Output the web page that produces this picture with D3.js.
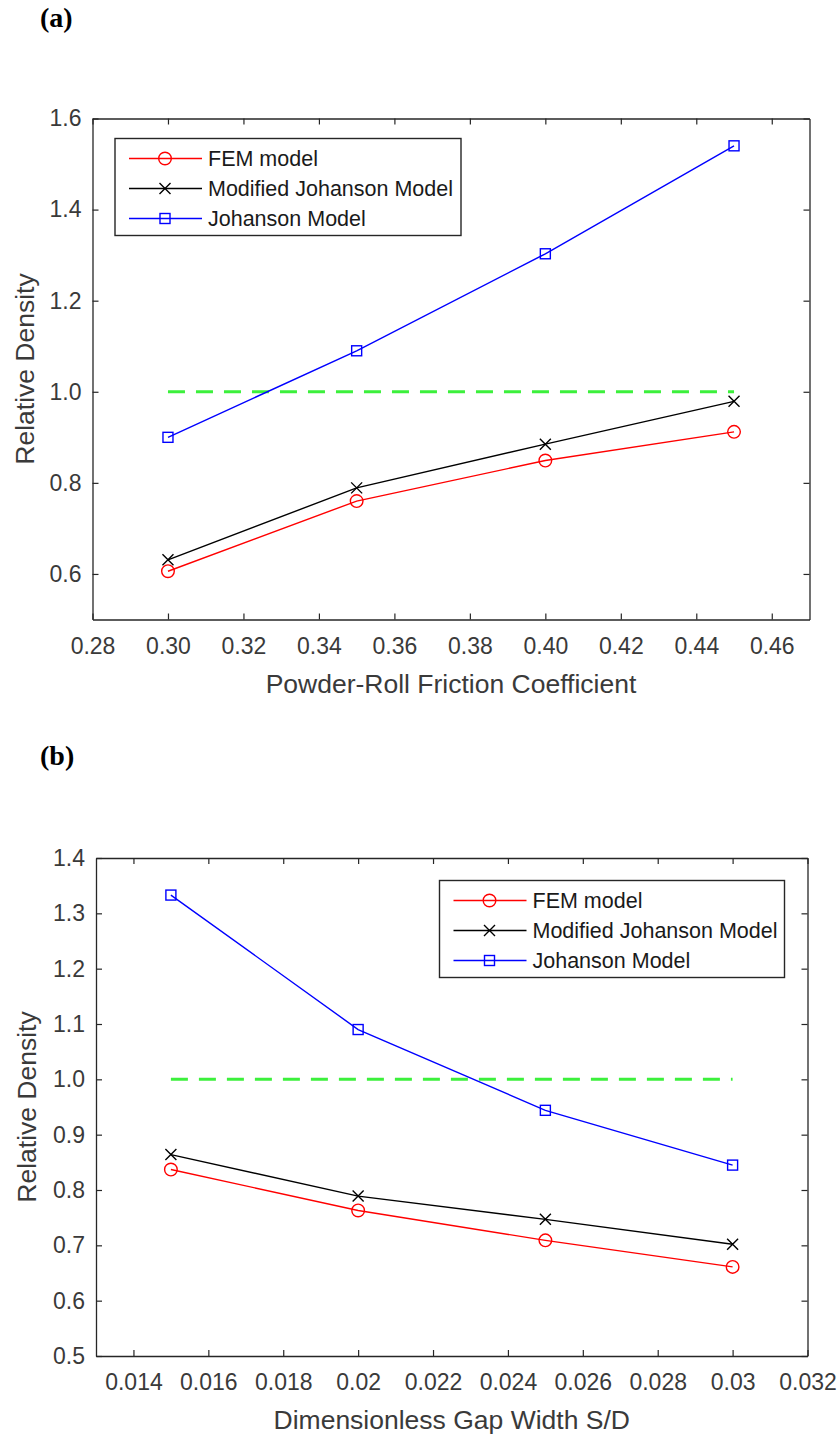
<!DOCTYPE html>
<html>
<head>
<meta charset="utf-8">
<script src="https://cdn.jsdelivr.net/npm/d3@7"></script>
<style>
  html, body { margin: 0; padding: 0; background: #fff; }
  svg { display: block; }
</style>
</head>
<body>
<svg id="fig" width="840" height="1435"></svg>
<script>
// ---- Panel (a): relative density vs powder-roll friction coefficient ----
const frictionCoeff = [0.30, 0.35, 0.40, 0.45];
const femA = [0.606, 0.760, 0.849, 0.912];
const modJohansonA = [0.631, 0.789, 0.885, 0.979];
const johansonA = [0.900, 1.090, 1.303, 1.540];
const xTicksA = [0.28, 0.30, 0.32, 0.34, 0.36, 0.38, 0.40, 0.42, 0.44, 0.46];
const yTicksA = [0.6, 0.8, 1.0, 1.2, 1.4, 1.6];

// ---- Panel (b): relative density vs dimensionless gap width ----
const gapWidth = [0.015, 0.020, 0.025, 0.030];
const femB = [0.837, 0.763, 0.709, 0.661];
const modJohansonB = [0.864, 0.789, 0.747, 0.702];
const johansonB = [1.333, 1.090, 0.944, 0.845];
const xTicksB = [0.014, 0.016, 0.018, 0.020, 0.022, 0.024, 0.026, 0.028, 0.030, 0.032];
const yTicksB = [0.5, 0.6, 0.7, 0.8, 0.9, 1.0, 1.1, 1.2, 1.3, 1.4];

// Full-density reference level
const referenceDensity = 1.0;

const seriesNames = ["FEM model", "Modified Johanson Model", "Johanson Model"];
const seriesColors = ["#ff0000", "#000000", "#0000ff"];
const seriesMarkers = ["circle", "cross", "square"];

const AXIS_COLOR = "#262626";
const TEXT_COLOR = "#3a3a3a";
const FONT = "'Liberation Sans', Arial, sans-serif";

const svg = d3.select("#fig");

function drawMarker(g, type, x, y, color) {
  if (type === "circle") {
    g.append("circle").attr("cx", x).attr("cy", y).attr("r", 6.3)
      .attr("fill", "none").attr("stroke", color).attr("stroke-width", 1.4);
  } else if (type === "square") {
    const s = 10;
    g.append("rect").attr("x", x - s / 2).attr("y", y - s / 2)
      .attr("width", s).attr("height", s)
      .attr("fill", "none").attr("stroke", color).attr("stroke-width", 1.4);
  } else {
    const h = 5.5;
    g.append("path")
      .attr("d", `M${x - h},${y - h}L${x + h},${y + h}M${x - h},${y + h}L${x + h},${y - h}`)
      .attr("stroke", color).attr("stroke-width", 1.4).attr("fill", "none");
  }
}

function drawPanel(cfg) {
  const { left, right, top, bottom } = cfg.box;
  const g = svg.append("g");

  const x = d3.scaleLinear().domain(cfg.xDomain).range([left, right]);
  const y = d3.scaleLinear().domain(cfg.yDomain).range([bottom, top]);

  // Axes: bottom/left with labels, top/right mirrored ticks, all inward
  const tickLen = 6;
  const styleAxis = sel => {
    sel.select(".domain").attr("stroke", AXIS_COLOR).attr("stroke-width", 1.3);
    sel.selectAll(".tick line").attr("stroke", AXIS_COLOR).attr("stroke-width", 1.2);
    sel.selectAll(".tick text").attr("fill", TEXT_COLOR)
      .attr("font-family", FONT).attr("font-size", 23);
  };

  g.append("g").attr("transform", `translate(0,${bottom})`)
    .call(d3.axisBottom(x).tickValues(cfg.xTicks).tickFormat(cfg.xFormat)
      .tickSizeInner(-tickLen).tickSizeOuter(0).tickPadding(18))
    .call(styleAxis)
    .call(s => s.selectAll(".tick text").attr("dy", "0.71em"));

  g.append("g").attr("transform", `translate(0,${top})`)
    .call(d3.axisTop(x).tickValues(cfg.xTicks).tickFormat("")
      .tickSizeInner(-tickLen).tickSizeOuter(0))
    .call(styleAxis);

  g.append("g").attr("transform", `translate(${left},0)`)
    .call(d3.axisLeft(y).tickValues(cfg.yTicks).tickFormat(d3.format(".1f"))
      .tickSizeInner(-tickLen).tickSizeOuter(0).tickPadding(11))
    .call(styleAxis);

  g.append("g").attr("transform", `translate(${right},0)`)
    .call(d3.axisRight(y).tickValues(cfg.yTicks).tickFormat("")
      .tickSizeInner(-tickLen).tickSizeOuter(0))
    .call(styleAxis);

  // Axis titles
  g.append("text")
    .attr("x", (left + right) / 2).attr("y", bottom + 73)
    .attr("text-anchor", "middle").attr("fill", TEXT_COLOR)
    .attr("font-family", FONT).attr("font-size", 26.5)
    .text(cfg.xTitle);

  g.append("text")
    .attr("transform", `translate(${cfg.yTitleX},${(top + bottom) / 2}) rotate(-90)`)
    .attr("text-anchor", "middle").attr("fill", TEXT_COLOR)
    .attr("font-family", FONT).attr("font-size", 26.5)
    .text("Relative Density");

  // Dashed reference line at full density
  const xs = cfg.xValues;
  g.append("line")
    .attr("x1", x(xs[0])).attr("x2", x(xs[xs.length - 1]))
    .attr("y1", y(referenceDensity)).attr("y2", y(referenceDensity))
    .attr("stroke", "#3cf03c").attr("stroke-width", 3)
    .attr("stroke-dasharray", "17,11");

  // Model curves with markers
  const line = d3.line().x(d => x(d[0])).y(d => y(d[1]));
  cfg.series.forEach((vals, i) => {
    const pts = xs.map((v, j) => [v, vals[j]]);
    g.append("path").datum(pts).attr("d", line)
      .attr("fill", "none").attr("stroke", seriesColors[i]).attr("stroke-width", 1.4);
    pts.forEach(p => drawMarker(g, seriesMarkers[i], x(p[0]), y(p[1]), seriesColors[i]));
  });

  // Legend
  const L = cfg.legend;
  const lg = g.append("g");
  lg.append("rect")
    .attr("x", L.x).attr("y", L.y).attr("width", L.w).attr("height", L.h)
    .attr("fill", "#fff").attr("stroke", AXIS_COLOR).attr("stroke-width", 1.4);
  seriesNames.forEach((name, i) => {
    const ry = L.y + 20 + i * 30;
    lg.append("line")
      .attr("x1", L.x + 14).attr("x2", L.x + 87).attr("y1", ry).attr("y2", ry)
      .attr("stroke", seriesColors[i]).attr("stroke-width", 1.4);
    drawMarker(lg, seriesMarkers[i], L.x + 50, ry, seriesColors[i]);
    lg.append("text")
      .attr("x", L.x + 93).attr("y", ry + 7.6)
      .attr("fill", "#1a1a1a").attr("font-family", FONT).attr("font-size", 21.5)
      .text(name);
  });

  // Panel tag
  svg.append("text")
    .attr("x", cfg.tag.x).attr("y", cfg.tag.y)
    .attr("font-family", "'Liberation Serif', 'Times New Roman', serif")
    .attr("font-weight", "bold").attr("font-size", 28).attr("fill", "#000")
    .text(cfg.tag.text);
}

drawPanel({
  box: { left: 92.5, right: 809.5, top: 118.5, bottom: 619.5 },
  xDomain: [0.28, 0.47],
  yDomain: [0.5, 1.6],
  xTicks: xTicksA,
  yTicks: yTicksA,
  xFormat: d3.format(".2f"),
  xValues: frictionCoeff,
  series: [femA, modJohansonA, johansonA],
  xTitle: "Powder-Roll Friction Coefficient",
  yTitleX: 34,
  legend: { x: 115, y: 138.5, w: 346, h: 97 },
  tag: { text: "(a)", x: 40, y: 27 }
});

drawPanel({
  box: { left: 96, right: 807.5, top: 858, bottom: 1356 },
  xDomain: [0.013, 0.032],
  yDomain: [0.5, 1.4],
  xTicks: xTicksB,
  yTicks: yTicksB,
  xFormat: v => String(+v.toFixed(3)),
  xValues: gapWidth,
  series: [femB, modJohansonB, johansonB],
  xTitle: "Dimensionless Gap Width S/D",
  yTitleX: 36,
  legend: { x: 439.5, y: 880.5, w: 345, h: 97 },
  tag: { text: "(b)", x: 40, y: 765 }
});
</script>
</body>
</html>
